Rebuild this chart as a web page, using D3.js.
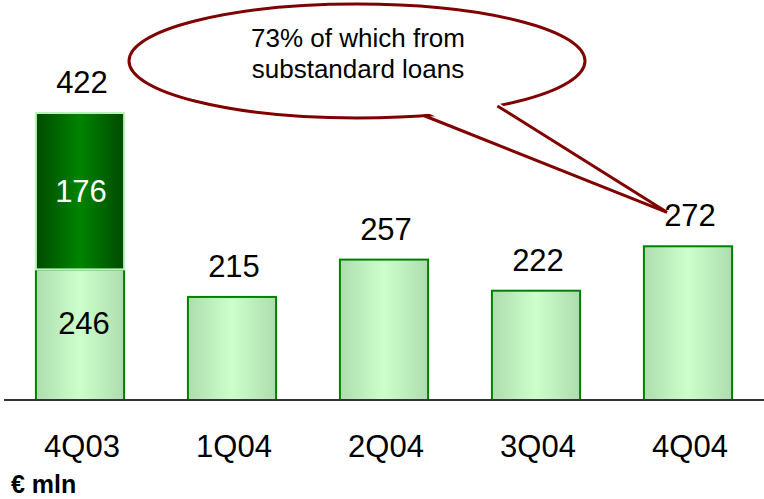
<!DOCTYPE html>
<html>
<head>
<meta charset="utf-8">
<script src="https://cdn.jsdelivr.net/npm/d3@7"></script>
<style>
  html, body { margin: 0; padding: 0; background: #fff; }
  svg { display: block; font-family: "Liberation Sans", Arial, sans-serif; }
</style>
</head>
<body>
<div id="chart"></div>
<script>
// data
var quarters = ["4Q03", "1Q04", "2Q04", "3Q04", "4Q04"];
var baseValues = [246, 215, 257, 222, 272];   // light green part
var extraValues = [176, 0, 0, 0, 0];          // dark green part (4Q03 only)
var totalLabels = [422, 215, 257, 222, 272];
var calloutLines = ["73% of which from", "substandard loans"];
var unitLabel = "€ mln";

var width = 764, height = 499;

var svg = d3.select("#chart").append("svg")
    .attr("width", width)
    .attr("height", height);

var defs = svg.append("defs");

function hGrad(id, edge, mid) {
  var g = defs.append("linearGradient").attr("id", id)
      .attr("x1", "0%").attr("x2", "100%").attr("y1", "0%").attr("y2", "0%");
  g.append("stop").attr("offset", "0%").attr("stop-color", edge);
  g.append("stop").attr("offset", "50%").attr("stop-color", mid);
  g.append("stop").attr("offset", "100%").attr("stop-color", edge);
}
hGrad("lightGrad", "#aedcae", "#ccffcc");
hGrad("darkGrad", "#004a00", "#008400");

// x: band scale over the full width
var x = d3.scaleBand()
    .domain(quarters)
    .range([4, 764])
    .paddingInner(0.42)
    .paddingOuter(0.21);

// y: the original chart's value axis does not start at zero
var y = d3.scaleLinear()
    .domain([99, 422])
    .range([400, 113]);

var rows = quarters.map(function(q, i) {
  return { q: q, base: baseValues[i], extra: extraValues[i], total: totalLabels[i] };
});

// light bars
svg.append("g").selectAll("rect")
  .data(rows)
  .join("rect")
    .attr("x", function(d) { return x(d.q); })
    .attr("y", function(d) { return y(d.base); })
    .attr("width", x.bandwidth())
    .attr("height", function(d) { return y.range()[0] - y(d.base); })
    .attr("fill", "url(#lightGrad)")
    .attr("stroke", "#008000")
    .attr("stroke-width", 2);

// dark stacked part
svg.append("g").selectAll("rect")
  .data(rows.filter(function(d) { return d.extra > 0; }))
  .join("rect")
    .attr("x", function(d) { return x(d.q); })
    .attr("y", function(d) { return y(d.base + d.extra); })
    .attr("width", x.bandwidth())
    .attr("height", function(d) { return y(d.base) - y(d.base + d.extra); })
    .attr("fill", "url(#darkGrad)")
    .attr("stroke", "#b8f4b8")
    .attr("stroke-width", 2);

// axis line
svg.append("line")
    .attr("x1", 4).attr("x2", width)
    .attr("y1", y.range()[0]).attr("y2", y.range()[0])
    .attr("stroke", "#333")
    .attr("stroke-width", 2);

// total labels above bars
svg.append("g").selectAll("text")
  .data(rows)
  .join("text")
    .attr("x", function(d) { return x(d.q) + x.bandwidth() / 2 + 2; })
    .attr("y", function(d) { return y(d.total) - 20; })
    .attr("text-anchor", "middle")
    .attr("font-size", 31)
    .attr("fill", "#000")
    .text(function(d) { return d.total; });

// inside labels for the stacked bar
var stacked = rows.filter(function(d) { return d.extra > 0; });
svg.append("g").selectAll("text.in-dark")
  .data(stacked)
  .join("text")
    .attr("class", "in-dark")
    .attr("x", function(d) { return x(d.q) + x.bandwidth() / 2 + 1; })
    .attr("y", function(d) { return (y(d.base) + y(d.base + d.extra)) / 2 + 11; })
    .attr("text-anchor", "middle")
    .attr("font-size", 31)
    .attr("fill", "#fff")
    .text(function(d) { return d.extra; });

svg.append("g").selectAll("text.in-light")
  .data(stacked)
  .join("text")
    .attr("class", "in-light")
    .attr("x", function(d) { return x(d.q) + x.bandwidth() / 2 + 4; })
    .attr("y", function(d) { return (y(d.base) + y.range()[0]) / 2 - 1; })
    .attr("text-anchor", "middle")
    .attr("font-size", 31)
    .attr("fill", "#000")
    .text(function(d) { return d.base; });

// category labels
svg.append("g").selectAll("text")
  .data(quarters)
  .join("text")
    .attr("x", function(d) { return x(d) + x.bandwidth() / 2 + 2; })
    .attr("y", 457)
    .attr("text-anchor", "middle")
    .attr("font-size", 31)
    .attr("fill", "#000")
    .text(function(d) { return d; });

// unit
svg.append("text")
    .attr("x", 11)
    .attr("y", 493)
    .attr("font-size", 25)
    .attr("font-weight", "bold")
    .attr("fill", "#000")
    .text(unitLabel);

// callout bubble pointing at the last bar's label
var cx = 357, cy = 61, rx = 228, ry = 57;
var a1 = 73 * Math.PI / 180, a2 = 52 * Math.PI / 180;
var p1 = [cx + rx * Math.cos(a1), cy + ry * Math.sin(a1)];
var p2 = [cx + rx * Math.cos(a2), cy + ry * Math.sin(a2)];
var lastQ = quarters[quarters.length - 1];
var tip = [x(lastQ) + x.bandwidth() / 2 - 21, y(totalLabels[totalLabels.length - 1]) - 34];

var callout = svg.append("g");
callout.append("ellipse")
    .attr("cx", cx).attr("cy", cy).attr("rx", rx).attr("ry", ry)
    .attr("fill", "#fff")
    .attr("stroke", "#800000")
    .attr("stroke-width", 3);
// white wedge covering the outline at the base of the tail
callout.append("path")
    .attr("d", "M" + p1[0] + "," + (p1[1] - 4) + "L" + tip[0] + "," + tip[1] + "L" + p2[0] + "," + (p2[1] - 4) + "Z")
    .attr("fill", "#fff");
callout.append("path")
    .attr("d", "M" + p1[0] + "," + p1[1] + "L" + tip[0] + "," + tip[1] + "L" + p2[0] + "," + p2[1])
    .attr("fill", "none")
    .attr("stroke", "#800000")
    .attr("stroke-width", 3)
    .attr("stroke-linejoin", "miter");

callout.selectAll("text")
  .data(calloutLines)
  .join("text")
    .attr("x", cx + 1)
    .attr("y", function(d, i) { return 47 + i * 31; })
    .attr("text-anchor", "middle")
    .attr("font-size", 26)
    .attr("fill", "#000")
    .text(function(d) { return d; });
</script>
</body>
</html>
